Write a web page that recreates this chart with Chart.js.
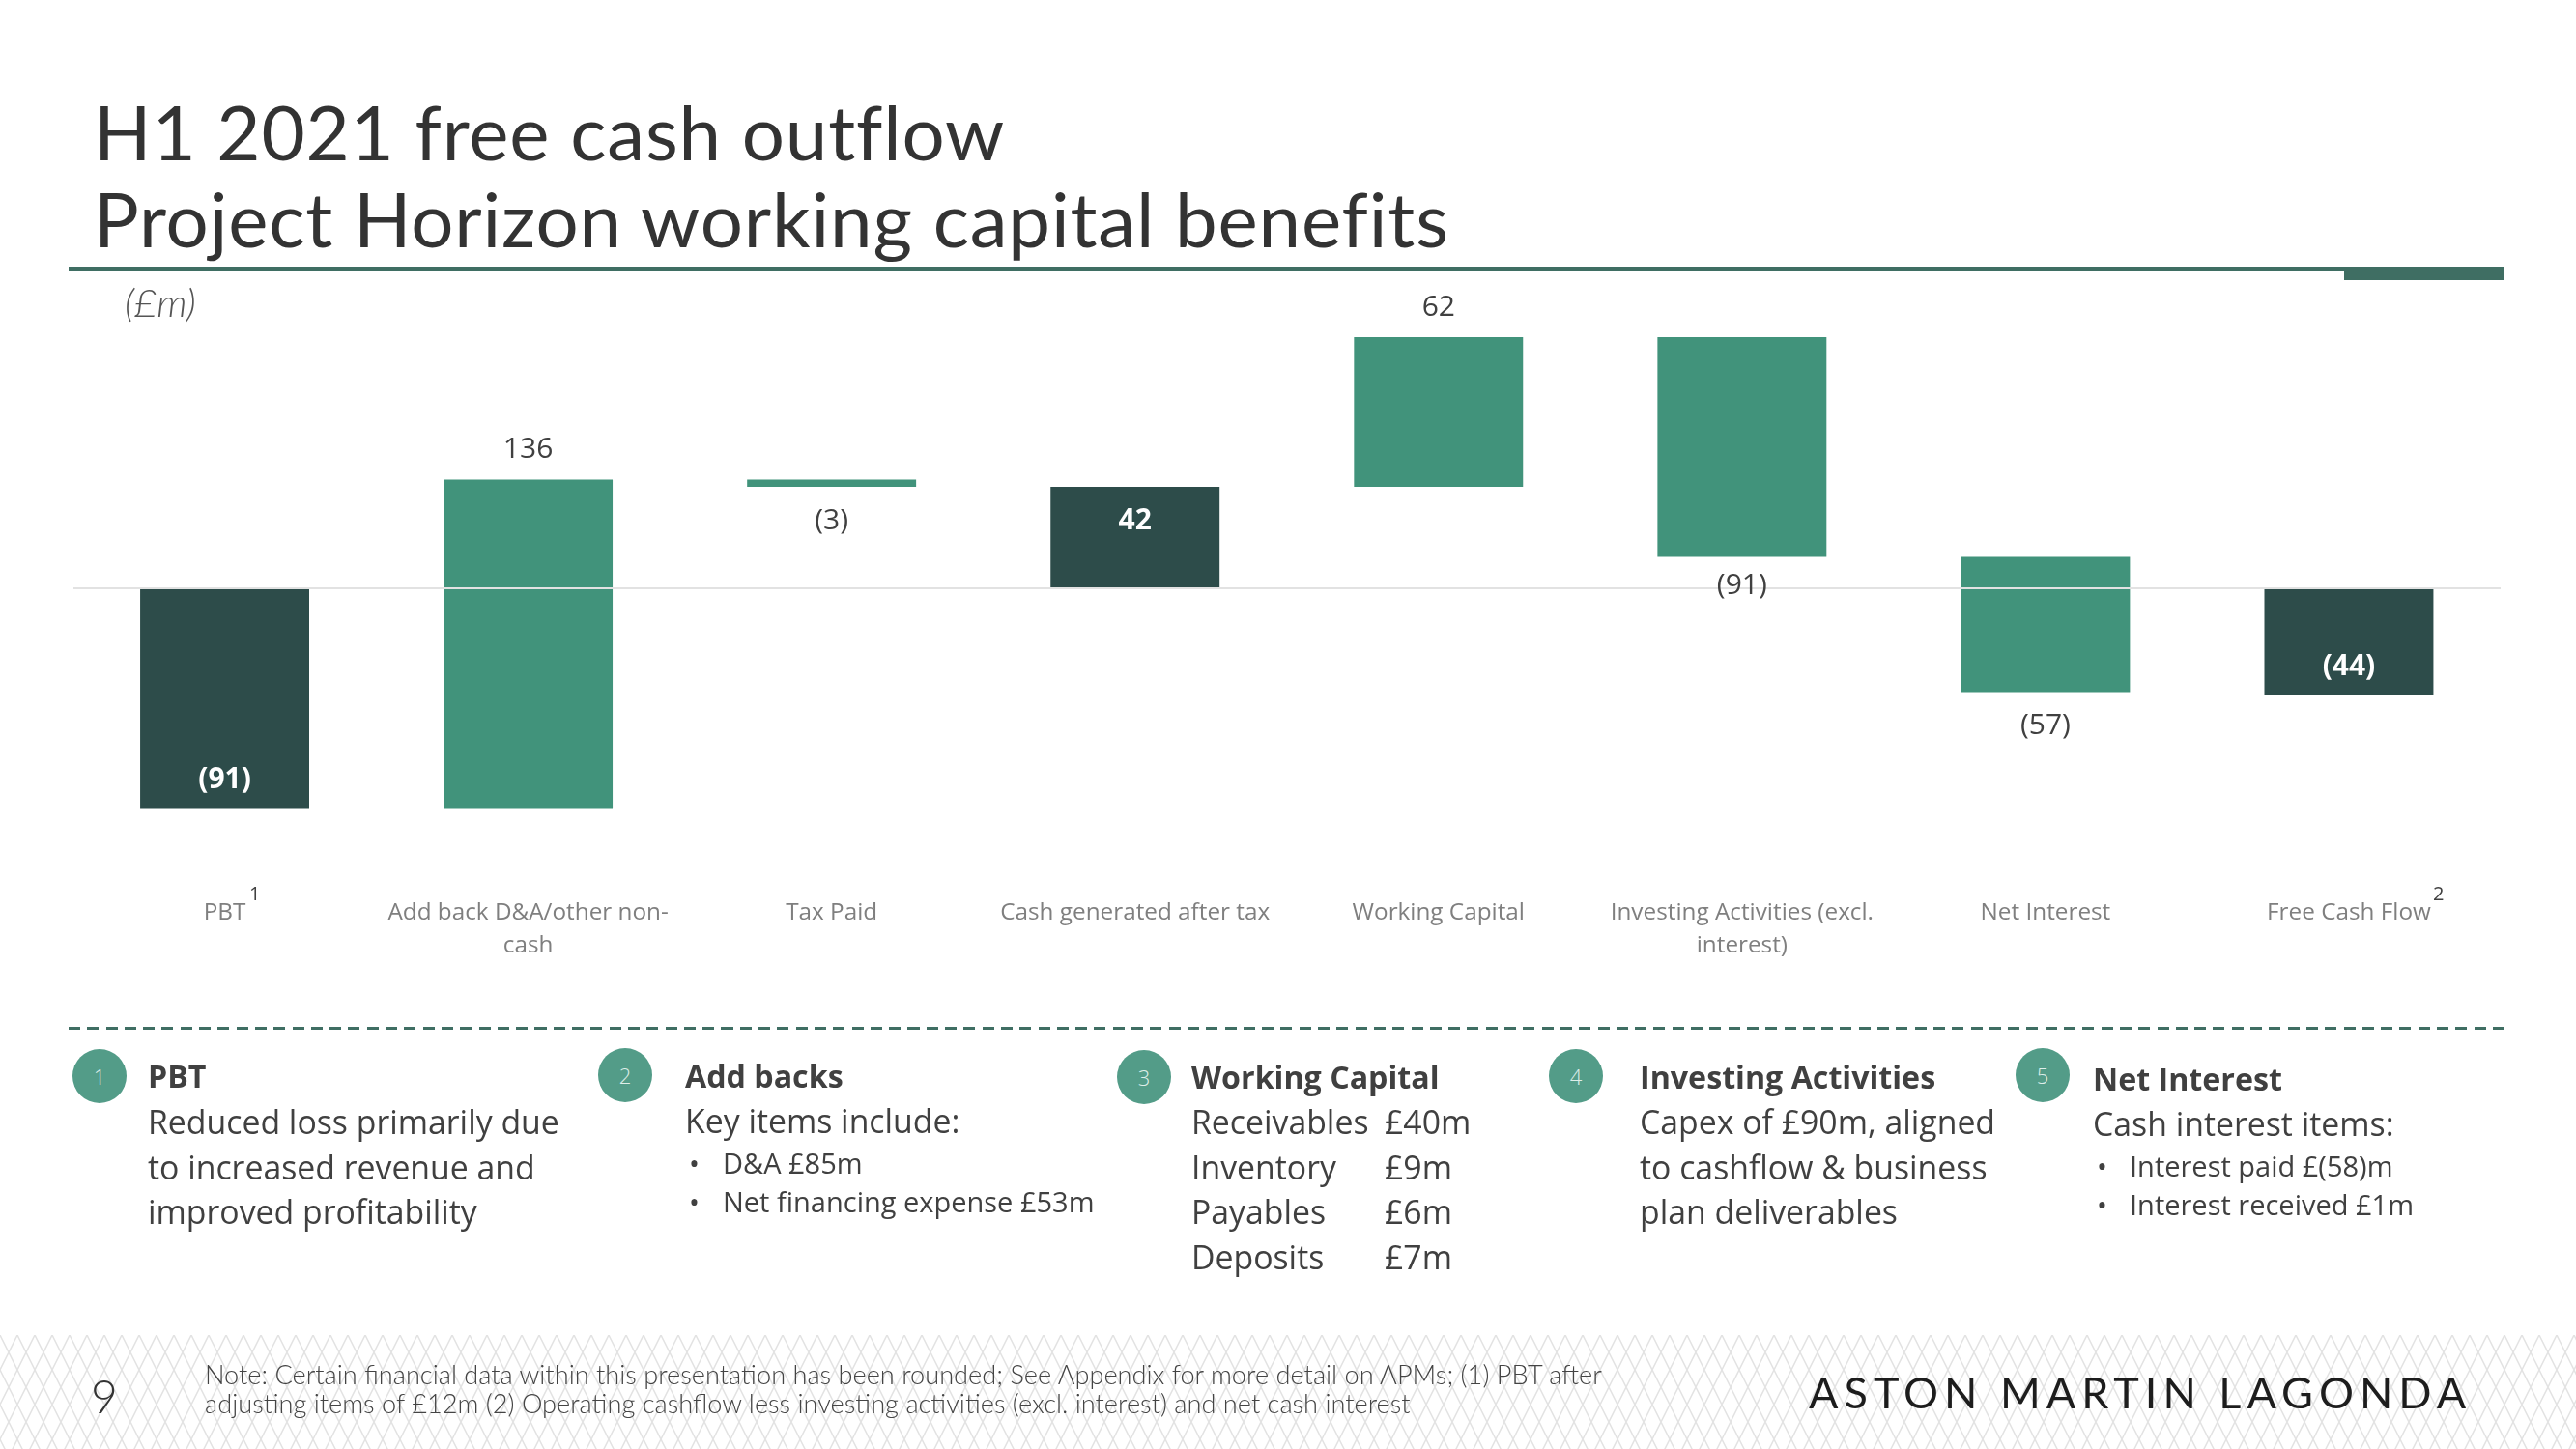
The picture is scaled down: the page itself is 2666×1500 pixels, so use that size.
<!DOCTYPE html>
<html><head><meta charset="utf-8">
<script src="https://cdn.jsdelivr.net/npm/chart.js@4"></script>
<style>
html,body{margin:0;padding:0;background:#fff;width:2666px;height:1500px;overflow:hidden;font-variant-ligatures:none}
#stage{position:relative;width:2666px;height:1500px;overflow:hidden}
canvas{position:absolute;left:0;top:0}
.t{position:absolute;white-space:pre;color:#404040;font-family:"Open Sans";font-size:33.8px;line-height:46.5px}
.h{font-weight:700;font-size:32.2px}
.b{font-size:29px;line-height:40px}
.title{position:absolute;left:97px;top:91px;font-family:Lato;font-weight:400;font-size:78px;line-height:90px;color:#333;white-space:pre;letter-spacing:.85px}
.c{position:absolute;width:56px;height:56px;border-radius:50%;background:#539c88;color:#dfeee9;font-family:"Open Sans";font-weight:300;font-size:22px;line-height:56px;text-align:center}
#foot{position:absolute;left:0;top:1382px;width:2666px;height:118px;background-color:#fff;
background-image:url("data:image/svg+xml,%3Csvg xmlns='http://www.w3.org/2000/svg' width='18' height='36'%3E%3Cpath d='M0 0L18 36M18 0L0 36M9 -18L27 18M-9 18L9 54M9 -18L-9 18M27 18L9 54' fill='none' stroke='%23e3e3e3' stroke-width='1.5'/%3E%3C/svg%3E");}
</style></head>
<body><div id="stage">
<div id="foot"></div>
<canvas id="c" width="2666" height="1500"></canvas>
<div class="title">H1 2021 free cash outflow
Project Horizon working capital benefits</div>
<div style="position:absolute;left:71px;top:276px;width:2521px;height:5px;background:#3f6e63"></div>
<div style="position:absolute;left:2426px;top:276px;width:166px;height:14px;background:#3f6e63"></div>
<div style="position:absolute;left:129px;top:290px;font:italic 300 40px/46px Lato;color:#555">(£m)</div>
<div class="t" style="left:258px;top:912px;font-size:20px;line-height:26px;color:#404040">1</div>
<div class="t" style="left:2518px;top:912px;font-size:20px;line-height:26px;color:#404040">2</div>
<div style="position:absolute;left:71px;top:1063px;width:2521px;height:3px;background:repeating-linear-gradient(90deg,#3f6e63 0 12px,transparent 12px 19.3px)"></div>

<div class="c" style="left:75px;top:1086px">1</div>
<div class="c" style="left:619px;top:1085px">2</div>
<div class="c" style="left:1156px;top:1087px">3</div>
<div class="c" style="left:1603px;top:1086px">4</div>
<div class="c" style="left:2086px;top:1085px">5</div>

<div class="t h" style="left:153px;top:1091px">PBT</div>
<div class="t" style="left:153px;top:1138px">Reduced loss primarily due
to increased revenue and
improved profitability</div>

<div class="t h" style="left:709px;top:1091px">Add backs</div>
<div class="t" style="left:709px;top:1137px">Key items include:</div>
<div class="t b" style="left:713px;top:1184px">•</div><div class="t b" style="left:748px;top:1184px">D&amp;A £85m</div>
<div class="t b" style="left:713px;top:1224px">•</div><div class="t b" style="left:748px;top:1224px">Net financing expense £53m</div>

<div class="t h" style="left:1233px;top:1092px">Working Capital</div>
<div class="t" style="left:1233px;top:1138px">Receivables
Inventory
Payables
Deposits</div>
<div class="t" style="left:1433px;top:1138px">£40m
£9m
£6m
£7m</div>

<div class="t h" style="left:1697px;top:1092px">Investing Activities</div>
<div class="t" style="left:1697px;top:1138px">Capex of £90m, aligned
to cashflow &amp; business
plan deliverables</div>

<div class="t h" style="left:2166px;top:1094px">Net Interest</div>
<div class="t" style="left:2166px;top:1140px">Cash interest items:</div>
<div class="t b" style="left:2170px;top:1187px">•</div><div class="t b" style="left:2204px;top:1187px">Interest paid £(58)m</div>
<div class="t b" style="left:2170px;top:1227px">•</div><div class="t b" style="left:2204px;top:1227px">Interest received £1m</div>

<div style="position:absolute;left:94px;top:1416px;font:300 48px/58px Lato;color:#333">9</div>
<div style="position:absolute;left:212px;top:1408px;font:300 27.2px/30px Lato;color:#444;white-space:pre">Note: Certain financial data within this presentation has been rounded; See Appendix for more detail on APMs; (1) PBT after
adjusting items of £12m (2) Operating cashflow less investing activities (excl. interest) and net cash interest</div>
<div style="position:absolute;left:1872px;top:1413px;font:400 45px/56px Lato;color:#1d1d1d;letter-spacing:6px;white-space:pre">ASTON MARTIN LAGONDA</div>
</div>
<script>
const categories = ['PBT', ['Add back D&A/other non-', 'cash'], 'Tax Paid', 'Cash generated after tax', 'Working Capital', ['Investing Activities (excl.', 'interest)'], 'Net Interest', 'Free Cash Flow'];
const barLow  = [-91, -91, 42, 0, 42, 13, -43, -44];
const barHigh = [0, 45, 45, 42, 104, 104, 13, 0];
const isTotal = [true, false, false, true, false, false, false, true];
const valueLabels = ['(91)', '136', '(3)', '42', '62', '(91)', '(57)', '(44)'];
const labelPlace = ['insideBottom', 'above', 'below', 'insideTop', 'above', 'belowTight', 'below', 'insideBottom'];

const barLabels = {
  id: 'barLabels',
  afterDraw(chart) {
    const { ctx } = chart;
    const y = chart.scales.y;
    const meta = chart.getDatasetMeta(0);
    ctx.save();
    ctx.textAlign = 'center';
    ctx.textBaseline = 'middle';
    valueLabels.forEach((txt, i) => {
      const top = y.getPixelForValue(barHigh[i]);
      const bottom = y.getPixelForValue(barLow[i]);
      const place = labelPlace[i];
      let py;
      if (place === 'above') py = top - 31;
      else if (place === 'below') py = bottom + 35;
      else if (place === 'belowTight') py = bottom + 30;
      else if (place === 'insideTop') py = top + 35;
      else py = bottom - 29;
      ctx.font = (isTotal[i] ? '700' : '400') + ' 30px "Open Sans"';
      ctx.fillStyle = isTotal[i] ? '#ffffff' : '#404040';
      ctx.fillText(txt, meta.data[i].x, py);
    });
    ctx.restore();
  }
};

new Chart(document.getElementById('c'), {
  type: 'bar',
  data: {
    labels: categories,
    datasets: [{
      data: barLow.map((v, i) => [v, barHigh[i]]),
      backgroundColor: isTotal.map(t => t ? '#2d4c4a' : '#41937b'),
      borderWidth: 0,
      borderSkipped: false,
      barPercentage: 1,
      categoryPercentage: 0.557
    }]
  },
  plugins: [barLabels],
  options: {
    responsive: false,
    devicePixelRatio: 1,
    animation: false,
    layout: { padding: { left: 75.5, right: 78, top: 309, bottom: 0 } },
    plugins: { legend: { display: false }, tooltip: { enabled: false }, title: { display: false } },
    scales: {
      x: {
        grid: { display: false },
        border: { display: false },
        afterFit(s) { s.height = 591; },
        ticks: {
          color: '#7f7f7f',
          padding: 11,
          maxRotation: 0,
          autoSkip: false,
          font: { family: 'Open Sans', size: 24.3, lineHeight: 1.4 }
        }
      },
      y: {
        min: -120,
        max: 120,
        afterFit(s) { s.width = 0; },
        afterBuildTicks(s) { s.ticks = [{ value: 0 }]; },
        ticks: { display: false },
        border: { display: false },
        grid: { color: '#e2e2e2', lineWidth: 2, z: 1, drawTicks: false }
      }
    }
  }
});
</script>
</body></html>
